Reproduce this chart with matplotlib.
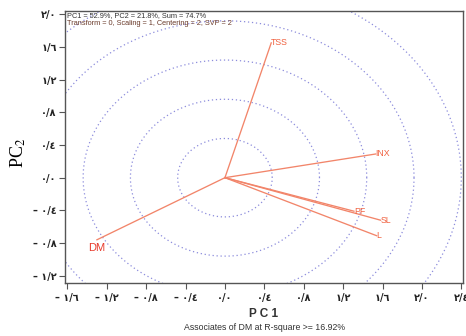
import numpy as np
import matplotlib
matplotlib.use("Agg")
import matplotlib.pyplot as plt

# loadings on the first two components
variables = ["TSS", "INX", "PF", "SL", "L", "DM"]
pc1 = [0.47, 1.53, 1.31, 1.58, 1.54, -1.30]
pc2 = [1.65, 0.29, -0.41, -0.52, -0.71, -0.76]

x_ticks = [-1.6, -1.2, -0.8, -0.4, 0.0, 0.4, 0.8, 1.2, 1.6, 2.0, 2.4]
y_ticks = [-1.2, -0.8, -0.4, 0.0, 0.4, 0.8, 1.2, 1.6, 2.0]
radii = [0.48, 0.96, 1.44, 1.92, 2.40]

header1 = "PC1 = 52.9%, PC2 = 21.8%, Sum = 74.7%"
header2 = "Transform = 0, Scaling = 1, Centering = 2, SVP = 2"
footer = "Associates of DM at R-square >= 16.92%"

AR_DIGITS = str.maketrans("0123456789", "٠١٢٣٤٥٦٧٨٩")


def arabic_label(v):
    s = "%.1f" % abs(v)
    s = s.replace(".", "/").translate(AR_DIGITS)
    if v < -1e-9:
        s = "\u2013 " + s
    return s


plt.rcParams["font.family"] = ["Liberation Sans", "DejaVu Sans"]
plt.rcParams["mathtext.fontset"] = "stix"

fig = plt.figure(figsize=(4.66, 3.36), dpi=100)
ax = fig.add_axes([0.1395, 0.1577, 0.854, 0.8105])

# concentric dotted circles
t = np.linspace(0, 2 * np.pi, 400)
for r in radii:
    ax.plot(r * np.cos(t), r * np.sin(t), color="#8c8cdc", lw=0.9,
            linestyle=(0, (1, 2.2)), zorder=1)

line_col = "#f2856a"
for name, x, y in zip(variables, pc1, pc2):
    ax.plot([0, x], [0, y], color=line_col, lw=0.95, zorder=2)
    if name == "DM":
        ax.text(x, y - 0.04, name, color="#e83a2c", fontsize=8,
                ha="center", va="top", zorder=3)
    else:
        ax.text(x, y, name, color="#f0603e", fontsize=6.3,
                ha="left", va="center", zorder=3)

ax.set_xlim(-1.624, 2.417)
ax.set_ylim(-1.289, 2.044)
ax.set_xticks(x_ticks)
ax.set_yticks(y_ticks)
ax.set_xticklabels([arabic_label(v) for v in x_ticks], family="DejaVu Sans",
                   fontsize=7, fontweight="bold")
ax.set_yticklabels([arabic_label(v) for v in y_ticks], family="DejaVu Sans",
                   fontsize=7, fontweight="bold")
ax.tick_params(axis="both", direction="out", length=4, width=0.8,
               color="#555555", labelcolor="#222222")
ax.tick_params(axis="x", pad=3)
ax.tick_params(axis="y", pad=2)
for sp in ax.spines.values():
    sp.set_color("#555555")
    sp.set_linewidth(1.0)

ax.text(0.004, 0.995, header1, transform=ax.transAxes, fontsize=5.3,
        color="#333333", ha="left", va="top")
ax.text(0.004, 0.965, header2, transform=ax.transAxes, fontsize=5.3,
        color="#6a3a2a", ha="left", va="top")

ax.set_xlabel("P C 1", fontsize=8.5, fontweight="bold", color="#333333",
              labelpad=4)
fig.text(0.567, 0.024, footer, fontsize=6.3, color="#333333",
         ha="center", va="center")
fig.text(0.04, 0.545, "PC$_2$", family="Liberation Serif", fontsize=13,
         rotation=90, ha="center", va="center")

fig.savefig("out.png", dpi=100)
